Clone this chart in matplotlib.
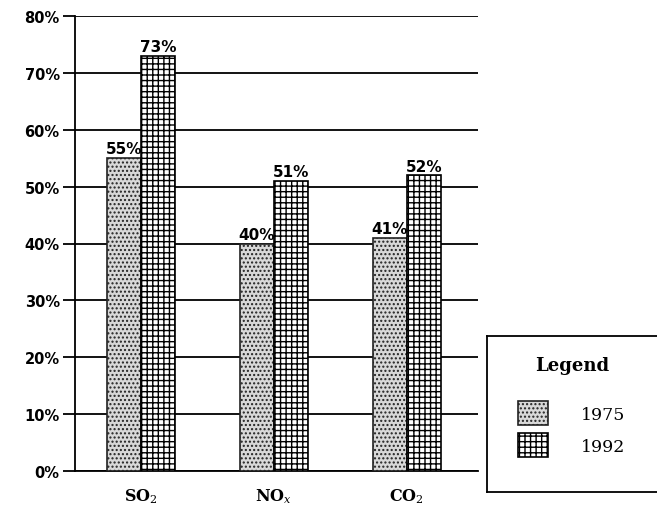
import numpy as np
import matplotlib.pyplot as plt
from matplotlib.patches import Patch

# values
pollutants = ["SO$_2$", "NO$_x$", "CO$_2$"]
pct_1975 = [55, 40, 41]
pct_1992 = [73, 51, 52]
years = ["1975", "1992"]
yticks = [0, 10, 20, 30, 40, 50, 60, 70, 80]

plt.rcParams['hatch.linewidth'] = 1.0
plt.rcParams['mathtext.fontset'] = 'dejavuserif'

fig = plt.figure(figsize=(6.57, 5.10), dpi=100)
ax = fig.add_axes([75 / 657, 38 / 510, 403 / 657, 455 / 510])

x = np.arange(len(pollutants))
w = 0.255

b1 = ax.bar(x - w / 2, pct_1975, w, facecolor="#d8d8d8", edgecolor="#222222",
            hatch="....", linewidth=1.2, zorder=3)
b2 = ax.bar(x + w / 2, pct_1992, w, facecolor="white", edgecolor="black",
            hatch="+++", linewidth=1.2, zorder=3)

for bars, vals in ((b1, pct_1975), (b2, pct_1992)):
    for r, v in zip(bars, vals):
        ax.text(r.get_x() + r.get_width() / 2, v + 0.3, f"{v}%", ha="center", va="bottom",
                fontsize=11, fontweight="bold", family="DejaVu Sans", zorder=4)

ax.set_xlim(-0.496, 2.535)
ax.set_ylim(0, 80)
ax.set_yticks(yticks)
ax.set_yticklabels([f"{t}%" for t in yticks], fontsize=10.5, fontweight="bold")
ax.set_xticks(x)
ax.set_xticklabels(pollutants, fontsize=11.5, family="DejaVu Serif", fontweight="bold")
ax.tick_params(axis="x", length=0, pad=11)
ax.tick_params(axis="y", length=9, width=1.3, direction="out", pad=2)
ax.yaxis.grid(True, color="black", linewidth=1.3, zorder=0)
for s in ("top", "right"):
    ax.spines[s].set_visible(False)
ax.spines["left"].set_linewidth(1.3)
ax.spines["bottom"].set_linewidth(1.3)

# legend box on the right
lax = fig.add_axes([487 / 657, 17 / 510, 175 / 657, 156 / 510])
lax.set_xticks([])
lax.set_yticks([])
for s in lax.spines.values():
    s.set_linewidth(1.3)
handles = [Patch(facecolor="#d8d8d8", edgecolor="#222222", hatch="....", linewidth=1.2),
           Patch(facecolor="white", edgecolor="black", hatch="+++", linewidth=1.2)]
leg = lax.legend(handles, years, title="Legend", loc="center left",
                 bbox_to_anchor=(0.09, 0.55), frameon=False,
                 handlelength=1.7, handleheight=1.7,
                 handletextpad=1.9, labelspacing=0.5,
                 prop={"family": "DejaVu Serif", "size": 12.5})
leg.get_title().set_fontfamily("DejaVu Serif")
leg.get_title().set_fontsize(13)
leg.get_title().set_fontweight("bold")
leg._legend_box.sep = 20

fig.savefig("out.png", dpi=100)
